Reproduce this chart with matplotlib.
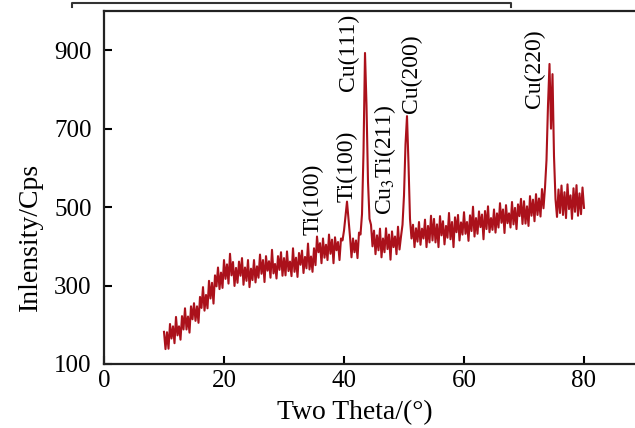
import numpy as np
import matplotlib
matplotlib.use("Agg")
import matplotlib.pyplot as plt
from matplotlib.lines import Line2D

plt.rcParams['font.family'] = ['Liberation Serif', 'DejaVu Serif']
plt.rcParams['mathtext.fontset'] = 'stix'

# Two-theta from 10 to 80 in 0.25 degree steps
two_theta_start = 10.0
two_theta_step = 0.25

intensity = [
    # 10.00 - 14.75
    182, 138, 181, 139, 202, 165, 196, 153, 220, 173, 196, 162, 222, 188, 242, 188, 221, 180, 247, 214,
    # 15.00 - 19.75
    255, 210, 247, 205, 271, 243, 296, 236, 276, 242, 312, 267, 307, 254, 326, 298, 346, 291, 333, 294,
    # 20.00 - 24.75
    365, 317, 354, 305, 381, 326, 360, 299, 345, 307, 361, 325, 370, 302, 346, 312, 365, 296, 343, 314,
    # 25.00 - 29.75
    365, 308, 349, 320, 379, 330, 365, 309, 375, 338, 362, 320, 391, 331, 355, 318, 375, 340, 385, 325,
    # 30.00 - 34.75
    370, 326, 387, 337, 361, 324, 395, 335, 371, 322, 383, 353, 389, 332, 373, 344, 407, 341, 374, 335,
    # 35.00 - 39.75
    395, 352, 425, 385, 408, 357, 420, 371, 404, 365, 430, 381, 417, 357, 423, 390, 411, 365, 420, 415,
    # 40.00 - 44.75
    440, 478, 514, 470, 425, 372, 420, 385, 415, 370, 435, 430, 482, 640, 893, 760, 565, 470, 455, 400,
    # 45.00 - 49.75
    440, 380, 428, 390, 445, 372, 420, 385, 446, 393, 430, 366, 438, 398, 425, 380, 450, 392, 425, 455,
    # 50.00 - 54.75
    530, 660, 732, 610, 470, 420, 455, 398, 446, 412, 462, 404, 445, 420, 468, 398, 452, 410, 478, 415,
    # 55.00 - 59.75
    470, 410, 456, 398, 477, 428, 464, 405, 452, 422, 485, 418, 462, 398, 474, 436, 480, 415, 461, 430,
    # 60.00 - 64.75
    487, 432, 462, 414, 479, 439, 501, 425, 472, 432, 489, 449, 481, 418, 490, 444, 502, 436, 472, 442,
    # 65.00 - 69.75
    494, 435, 484, 448, 510, 460, 494, 434, 505, 459, 484, 448, 513, 456, 498, 444, 507, 477, 521, 457,
    # 70.00 - 74.75
    515, 458, 502, 452, 528, 478, 519, 464, 533, 480, 522, 476, 546, 497, 550, 620, 760, 865, 700, 839,
    # 75.00 - 80.00
    630, 520, 475, 545, 485, 555, 480, 538, 472, 558, 495, 530, 470, 548, 488, 556, 478, 535, 482, 550, 498,
]
two_theta = two_theta_start + two_theta_step * np.arange(len(intensity))

peak_labels = ["Ti(100)", "Ti(100)", "Cu(111)", r"Cu$_3$Ti(211)", "Cu(200)", "Cu(220)"]
peak_label_x = [34.8, 40.5, 40.7, 46.8, 51.2, 71.8]
peak_label_y = [430, 514, 795, 481, 740, 752]

x_ticks = [0, 20, 40, 60, 80]
y_ticks = [100, 300, 500, 700, 900]

W, H = 635, 428
fig = plt.figure(figsize=(W / 100, H / 100), dpi=100)
ax = fig.add_axes([104 / W, 1 - 364 / H, 1 - 104 / W, (364 - 11) / H])

ax.plot(two_theta, intensity, color='#ab111b', lw=1.5)

ax.set_xlim(0, 88.5)
ax.set_ylim(100, 1000)
ax.set_xticks(x_ticks)
ax.set_yticks(y_ticks)
ax.tick_params(direction='in', length=6, width=1.5, labelsize=18, colors='black')
ax.tick_params(axis='y', pad=9)
ax.tick_params(axis='x', pad=4)
ax.spines['right'].set_visible(False)
for s in ['left', 'bottom', 'top']:
    ax.spines[s].set_linewidth(1.6)
    ax.spines[s].set_color('#222222')

ax.set_xlabel("Two Theta/(°)", fontsize=20)
ax.set_ylabel("Inlensity/Cps", fontsize=20)
ax.xaxis.set_label_coords((355 - 104) / 531, (364 - 413) / 353, transform=ax.transAxes)
ax.yaxis.set_label_coords((30 - 104) / 531, (364 - 237) / 353, transform=ax.transAxes)
ax.xaxis.label.set_va('center')
ax.yaxis.label.set_va('center')

for lab, lx, ly in zip(peak_labels, peak_label_x, peak_label_y):
    ax.text(lx, ly, lab, rotation=90, ha='center', va='bottom', fontsize=17)

# frame edge of the panel above (cropped)
fig.add_artist(Line2D([72 / W, 72 / W, 511 / W, 511 / W],
                      [1 - 7 / H, 1 - 3 / H, 1 - 3 / H, 1 - 7 / H],
                      transform=fig.transFigure, color='#333333', lw=1.5))

fig.savefig("out.png", dpi=100)
